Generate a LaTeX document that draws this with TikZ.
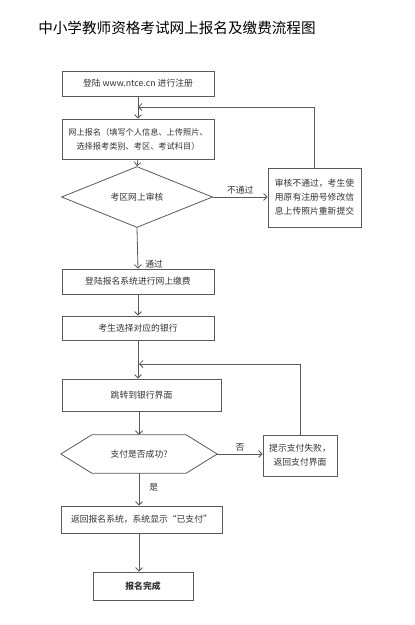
\documentclass[tikz,border=0pt]{standalone}
\usepackage{fontspec}
\newfontfamily\cjk{Noto Sans CJK SC}
\usetikzlibrary{arrows.meta,shapes.geometric,calc}
\begin{document}
\begin{tikzpicture}[x=1pt,y=1pt,
  every node/.style={font=\cjk\fontsize{8.8}{14}\selectfont, text=black!80, inner sep=0pt},
  procbox/.style={draw=black!65, line width=0.8pt, rectangle, align=center},
  conn/.style={draw=black!65, line width=0.8pt, -{Straight Barb[length=3.5pt,width=7pt]}},
  line/.style={draw=black!65, line width=0.8pt},
  lbl/.style={font=\cjk\fontsize{8.8}{11}\selectfont, text=black!80}
]
\useasboundingbox[fill=white] (0,0) rectangle (415,-625);
\node[font=\cjk\fontsize{14.6}{16}\selectfont, text=black] (title) at (177,-28) {中小学教师资格考试网上报名及缴费流程图};

\node[procbox, minimum width=152, minimum height=25] (b1) at (138,-83.5) {登陆 www.ntce.cn 进行注册};
\node[procbox, minimum width=152, minimum height=40, font=\cjk\fontsize{8.2}{14}\selectfont] (b2) at (138,-139) {网上报名（填写个人信息、上传照片、\\选择报考类别、考区、考试科目）};
\node[diamond, draw=black!65, line width=0.8pt, minimum width=151, minimum height=43] (d1) at (137,-197) {考区网上审核};
\node[procbox, minimum width=93, minimum height=59] (rb) at (314.5,-197.5) {审核不通过，考生使\\用原有注册号修改信\\息上传照片重新提交};
\node[procbox, minimum width=152, minimum height=25] (b3) at (138,-281.5) {登陆报名系统进行网上缴费};
\node[procbox, minimum width=152, minimum height=24] (b4) at (138,-328) {考生选择对应的银行};
\node[procbox, minimum width=159, minimum height=32] (b5) at (141.5,-395) {跳转到银行界面};
\node[minimum width=156, minimum height=38] (hx) at (139,-454) {支付是否成功?};
\draw[line] (hx.west) -- ($(hx.north west)+(31,0)$) -- ($(hx.north east)+(-31,0)$) -- (hx.east) -- ($(hx.south east)+(-31,0)$) -- ($(hx.south west)+(31,0)$) -- cycle;
\node[procbox, minimum width=74, minimum height=41] (fb) at (300,-455.5) {提示支付失败，\\返回支付界面};
\node[procbox, minimum width=161, minimum height=27] (b6) at (141.5,-519.5) {返回报名系统，系统显示“已支付”};
\node[procbox, minimum width=100, minimum height=28, font=\cjk\bfseries\fontsize{8.8}{14}\selectfont] (b7) at (143,-586) {报名完成};

\coordinate (m1) at (138,-107);
\coordinate (m2) at (139,-364);

\draw[conn] (b1.south) -- (b2.north);
\draw[conn] (b2.south) -- (d1.north);
\draw[conn] (d1.east) -- (d1.east -| rb.west) node[lbl, midway, above=2pt] (l1) {不通过};
\draw[conn] (rb.north) |- (m1);
\draw[conn] (d1.south) -- (b3.north) node[lbl, pos=0.9, right=7pt] (l2) {通过};
\draw[conn] (b3.south) -- (b4.north);
\draw[conn] (b4.south) -- (b4.south |- b5.north);
\draw[conn] (hx.south |- b5.south) -- (hx.north);
\draw[conn] (hx.east) -- (hx.east -| fb.west) node[lbl, midway, above=2pt] (l3) {否};
\draw[conn] (fb.north) |- (m2);
\draw[conn] (hx.south) -- (hx.south |- b6.north) node[lbl, pos=0.45, right=10pt] (l4) {是};
\draw[conn] (hx.south |- b6.south) -- (hx.south |- b7.north);
\end{tikzpicture}
\end{document}
